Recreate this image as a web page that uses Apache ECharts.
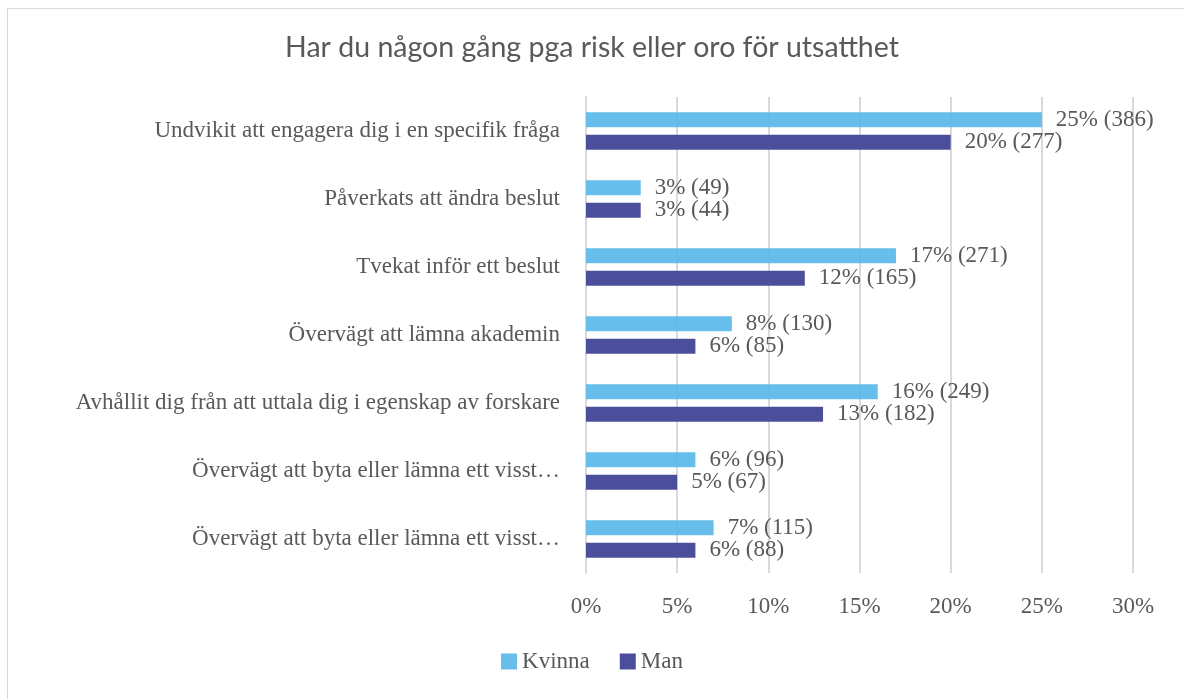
<!DOCTYPE html>
<html>
<head>
<meta charset="utf-8">
<script src="https://cdn.jsdelivr.net/npm/echarts@6/dist/echarts.min.js"></script>
<style>
  html, body { margin: 0; padding: 0; background: #fff; }
  #frame { position: absolute; left: 7px; top: 8px; width: 1200px; height: 720px; border: 1px solid #d9d9d9; box-sizing: border-box; }
  #chart { position: absolute; left: 0; top: 0; width: 1184px; height: 699px; }
</style>
</head>
<body>
<div id="frame"></div>
<div id="chart"></div>
<script>
// kategorier, uppifrån och ned
const categories = [
    'Undvikit att engagera dig i en specifik fråga',
    'Påverkats att ändra beslut',
    'Tvekat inför ett beslut',
    'Övervägt att lämna akademin',
    'Avhållit dig från att uttala dig i egenskap av forskare',
    'Övervägt att byta eller lämna ett visst…',
    'Övervägt att byta eller lämna ett visst…'
];
const kvinnaPct = [25, 3, 17, 8, 16, 6, 7];
const kvinnaCount = [386, 49, 271, 130, 249, 96, 115];
const manPct = [20, 3, 12, 6, 13, 5, 6];
const manCount = [277, 44, 165, 85, 182, 67, 88];
const xTicks = [0, 5, 10, 15, 20, 25, 30];

const serif = '"Liberation Serif", "DejaVu Serif", serif';
const textColor = '#595959';
const fs = 23;

function barLabel(counts) {
    return {
        show: true,
        position: 'right',
        distance: 14,
        color: textColor,
        fontFamily: serif,
        fontSize: fs,
        formatter: p => p.value + '% (' + counts[p.dataIndex] + ')'
    };
}

const chart = echarts.init(document.getElementById('chart'), null, { renderer: 'canvas' });

chart.setOption({
    animation: false,
    title: {
        text: 'Har du någon gång pga risk eller oro för utsatthet',
        left: 'center',
        top: 28,
        textStyle: { fontFamily: 'Lato, "Open Sans", sans-serif', fontWeight: 'normal', fontSize: 28.5, color: textColor }
    },
    legend: {
        bottom: 21,
        left: 'center',
        itemWidth: 16,
        itemHeight: 16,
        itemGap: 30,
        icon: 'rect',
        textStyle: { fontFamily: serif, fontSize: fs, color: textColor },
        data: ['Kvinna', 'Man']
    },
    grid: { left: 586, right: 51, top: 97, bottom: 126, containLabel: false },
    xAxis: {
        type: 'value',
        min: xTicks[0],
        max: xTicks[xTicks.length - 1],
        interval: 5,
        axisLine: { show: false },
        axisTick: { show: false },
        splitLine: { lineStyle: { color: '#d9d9d9', width: 2 } },
        axisLabel: { color: textColor, fontFamily: serif, fontSize: fs, margin: 22, formatter: '{value}%' }
    },
    yAxis: {
        type: 'category',
        inverse: true,
        data: categories,
        axisLine: { show: true, lineStyle: { color: '#d9d9d9', width: 2 } },
        axisTick: { show: false },
        axisLabel: { color: textColor, fontFamily: serif, fontSize: fs, margin: 26 }
    },
    series: [
        {
            name: 'Kvinna',
            type: 'bar',
            data: kvinnaPct,
            barWidth: 15,
            barGap: '50%',
            itemStyle: { color: 'rgba(90, 185, 232, 0.92)' },
            label: barLabel(kvinnaCount)
        },
        {
            name: 'Man',
            type: 'bar',
            data: manPct,
            barWidth: 15,
            itemStyle: { color: '#4b4f9b' },
            label: barLabel(manCount)
        }
    ]
});
</script>
</body>
</html>
